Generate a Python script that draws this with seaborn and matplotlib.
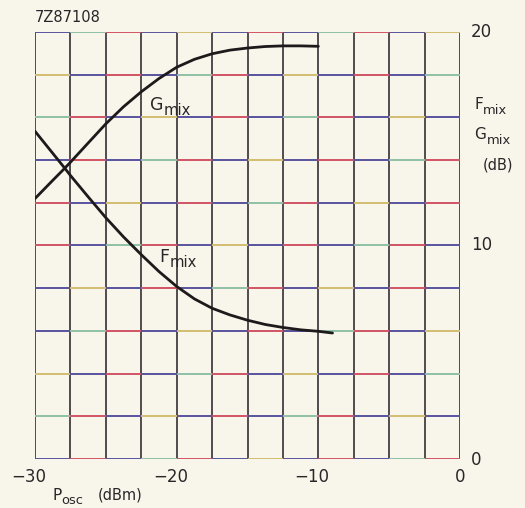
import numpy as np
import pandas as pd
import matplotlib.pyplot as plt
import seaborn as sns

# values (dB vs oscillator power in dBm)
p_osc_g = [-30, -28.75, -27.9, -27.5, -26.25, -25, -23.75, -22.5, -21.25,
           -20, -18.75, -17.5, -16.25, -15, -13.75, -12.5, -11.25, -10]
g_mix = [12.2, 13.05, 13.62, 13.9, 14.8, 15.7, 16.5, 17.2, 17.82,
         18.35, 18.72, 18.98, 19.15, 19.25, 19.32, 19.35, 19.35, 19.33]

p_osc_f = [-30, -28.75, -27.9, -27.5, -26.25, -25, -23.75, -22.5, -21.25,
           -20, -18.75, -17.5, -16.25, -15, -13.75, -12.5, -11.25, -10, -9]
f_mix = [15.35, 14.32, 13.62, 13.28, 12.28, 11.3, 10.4, 9.57, 8.78,
         8.08, 7.5, 7.06, 6.75, 6.5, 6.3, 6.16, 6.05, 5.98, 5.9]

x_ticks = [-30, -20, -10, 0]
x_tick_labels = ['\u221230', '\u221220', '\u221210', '0']
y_ticks = [0, 10, 20]
x_grid = np.arange(-30, 0.1, 2.5)
y_grid = np.arange(0, 20.1, 2)

df_g = pd.DataFrame({'p': p_osc_g, 'v': g_mix})
df_f = pd.DataFrame({'p': p_osc_f, 'v': f_mix})

sns.set_theme(style='white')
plt.rcParams['font.family'] = ['DejaVu Sans']

bg = '#f8f5eb'
tc = '#2a2628'
fig = plt.figure(figsize=(5.25, 5.08), dpi=100, facecolor=bg)
ax = fig.add_axes([0.0667, 0.0965, 0.8095, 0.8405])
ax.set_facecolor(bg)

# vertical grid: dark grey
for xv in x_grid:
    ax.axvline(xv, color='#443e42', lw=1.3, zorder=1)

# horizontal grid: scanned print with misregistered colours
seg_cols = ['#58539c', '#cf5466', '#58539c', '#8fc0a6', '#cf5466', '#58539c', '#d4bd70']
for j, yv in enumerate(y_grid):
    for i in range(len(x_grid) - 1):
        c = seg_cols[(i + 3 * j) % len(seg_cols)]
        ax.hlines(yv, x_grid[i], x_grid[i + 1], color=c, lw=1.4, zorder=2)

sns.lineplot(data=df_g, x='p', y='v', ax=ax, color='#1e1a1c', lw=2.0, zorder=3,
             solid_joinstyle='round')
sns.lineplot(data=df_f, x='p', y='v', ax=ax, color='#1e1a1c', lw=2.0, zorder=3,
             solid_joinstyle='round')

ax.set_xlim(-30, 0)
ax.set_ylim(0, 20)
for s in ax.spines.values():
    s.set_visible(False)
ax.set_xticks([])
ax.set_yticks([])
ax.set_xlabel('')
ax.set_ylabel('')


def sub_label(x, y, main, sub, size, ha='left'):
    t = ax.text(x, y, main, ha=ha, va='center', fontsize=size, color=tc)
    fig.canvas.draw()
    bb = t.get_window_extent()
    inv = ax.transData.inverted()
    x1 = inv.transform((bb.x1, bb.y0))[0]
    ax.annotate(sub, xy=(x1, y), xytext=(0.3, -4), textcoords='offset points',
                ha='left', va='center', fontsize=size * 0.85, color=tc,
                annotation_clip=False)


for xv, lab in zip(x_ticks, x_tick_labels):
    shift = -0.45 if xv < 0 else 0
    ax.text(xv + shift, -0.85, lab, ha='center', va='center', fontsize=12, color=tc)
for yv in y_ticks:
    ax.text(0.75, yv - (0.05 if yv == 0 else 0), str(yv), ha='left',
            va='center', fontsize=12, color=tc)

ax.text(-30, 20.7, '7Z87108', ha='left', va='center', fontsize=10.5, color=tc)
sub_label(-21.9, 16.6, 'G', 'mix', 12.5)
sub_label(-21.2, 9.45, 'F', 'mix', 12.5)
sub_label(1.0, 16.6, 'F', 'mix', 11)
sub_label(1.0, 15.2, 'G', 'mix', 11)
ax.text(2.65, 13.75, '(dB)', ha='center', va='center', fontsize=10.5, color=tc)
sub_label(-28.8, -1.7, 'P', 'osc', 11)
ax.text(-25.6, -1.7, '(dBm)', ha='left', va='center', fontsize=10.5, color=tc)

fig.savefig('out.png', dpi=100, facecolor=bg)
